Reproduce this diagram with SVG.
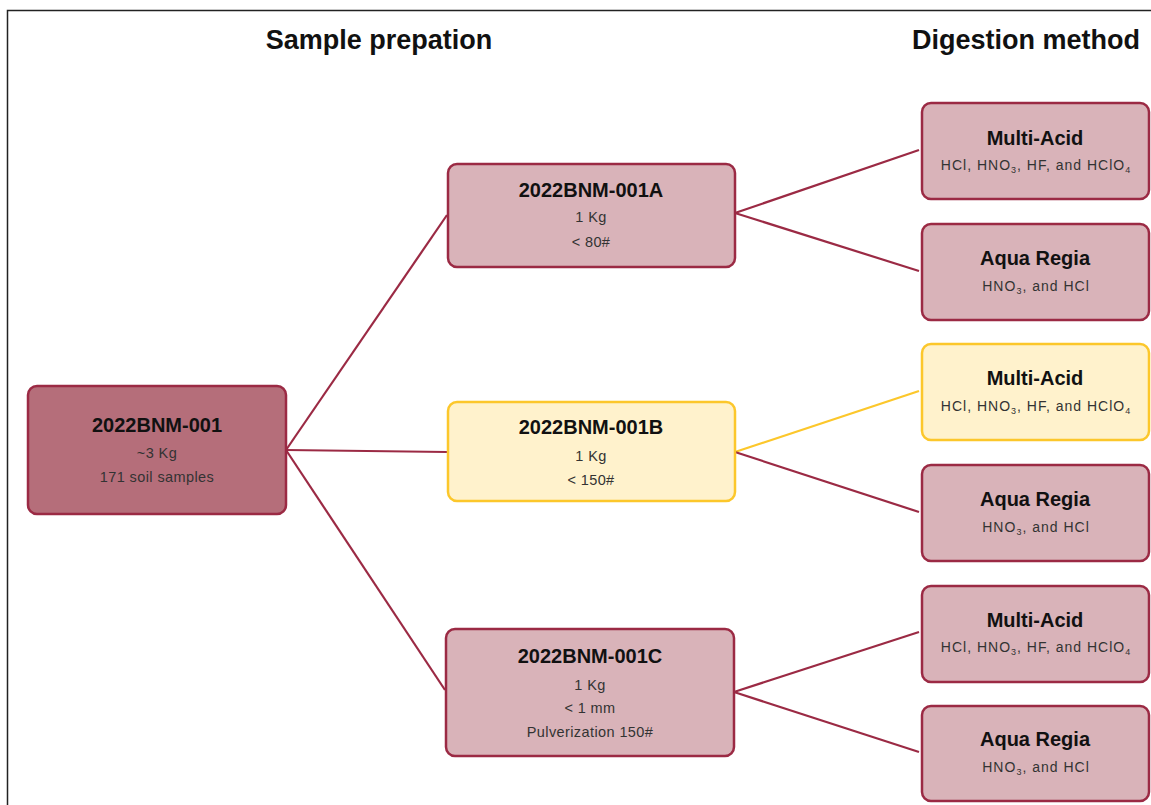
<svg xmlns="http://www.w3.org/2000/svg" width="1151" height="805" viewBox="0 0 1151 805">
<style>
.hdr{font-family:"Liberation Sans",Arial,sans-serif;font-weight:bold;font-size:27px;fill:#111;text-anchor:middle}
.t{font-family:"Liberation Sans",Arial,sans-serif;font-weight:bold;font-size:20px;fill:#111;text-anchor:middle}
.s{font-family:"Liberation Sans",Arial,sans-serif;font-size:14.5px;fill:#333;text-anchor:middle;letter-spacing:0.4px}
.r{font-family:"Liberation Sans",Arial,sans-serif;font-size:14px;fill:#333;text-anchor:middle;letter-spacing:1px}
.sub{font-size:9px}
.root{fill:#b56e7a;stroke:#9b2a44;stroke-width:2.5}
.pink{fill:#d9b3b9;stroke:#9b2a44;stroke-width:2.5}
.yel{fill:#fff2cc;stroke:#fcc72b;stroke-width:2.5}
.ln{stroke:#9b2a44;stroke-width:2.2;fill:none}
.lny{stroke:#fcc72b;stroke-width:2.2;fill:none}
</style>
<rect width="1151" height="805" fill="#fff"/>
<path d="M7.5 805 V10.5 H1151" fill="none" stroke="#222" stroke-width="1.5"/>
<text class="hdr" x="379" y="49">Sample prepation</text>
<text class="hdr" x="1026" y="49">Digestion method</text>
<g id="connectors">
<line class="ln" x1="286" y1="450" x2="447" y2="215"/>
<line class="ln" x1="286" y1="450" x2="447" y2="452"/>
<line class="ln" x1="286" y1="450" x2="445" y2="690"/>
<line class="ln" x1="735" y1="213" x2="919" y2="150"/>
<line class="ln" x1="735" y1="213" x2="919" y2="271"/>
<line class="lny" x1="735" y1="452" x2="919" y2="391"/>
<line class="ln" x1="735" y1="452" x2="919" y2="512"/>
<line class="ln" x1="734" y1="692" x2="919" y2="632"/>
<line class="ln" x1="734" y1="692" x2="919" y2="752"/>
</g>
<g id="root">
<rect class="root" x="28" y="386" width="258" height="128" rx="9"/>
<text class="t" x="157" y="432">2022BNM-001</text>
<text class="s" x="157" y="458">~3 Kg</text>
<text class="s" x="157" y="482">171 soil samples</text>
</g>
<g id="nodeA">
<rect class="pink" x="448" y="164" width="287" height="103" rx="9"/>
<text class="t" x="591" y="197">2022BNM-001A</text>
<text class="s" x="591" y="222">1 Kg</text>
<text class="s" x="591" y="247">&lt; 80#</text>
</g>
<g id="nodeB">
<rect class="yel" x="448" y="402" width="287" height="99" rx="9"/>
<text class="t" x="591" y="434">2022BNM-001B</text>
<text class="s" x="591" y="461">1 Kg</text>
<text class="s" x="591" y="485">&lt; 150#</text>
</g>
<g id="nodeC">
<rect class="pink" x="446" y="629" width="288" height="127" rx="9"/>
<text class="t" x="590" y="663">2022BNM-001C</text>
<text class="s" x="590" y="690">1 Kg</text>
<text class="s" x="590" y="713">&lt; 1 mm</text>
<text class="s" x="590" y="737">Pulverization 150#</text>
</g>
<g id="A-multi">
<rect class="pink" x="922" y="103" width="227" height="96" rx="9"/>
<text class="t" x="1035" y="145">Multi-Acid</text>
<text class="r" x="1036" y="170">HCl, HNO<tspan class="sub" dy="3">3</tspan><tspan dy="-3">, HF, and HClO</tspan><tspan class="sub" dy="3">4</tspan></text>
</g>
<g id="A-aqua">
<rect class="pink" x="922" y="224" width="227" height="96" rx="9"/>
<text class="t" x="1035" y="265">Aqua Regia</text>
<text class="r" x="1036" y="291">HNO<tspan class="sub" dy="3">3</tspan><tspan dy="-3">, and HCl</tspan></text>
</g>
<g id="B-multi">
<rect class="yel" x="922" y="344" width="227" height="96" rx="9"/>
<text class="t" x="1035" y="385">Multi-Acid</text>
<text class="r" x="1036" y="411">HCl, HNO<tspan class="sub" dy="3">3</tspan><tspan dy="-3">, HF, and HClO</tspan><tspan class="sub" dy="3">4</tspan></text>
</g>
<g id="B-aqua">
<rect class="pink" x="922" y="465" width="227" height="96" rx="9"/>
<text class="t" x="1035" y="506">Aqua Regia</text>
<text class="r" x="1036" y="532">HNO<tspan class="sub" dy="3">3</tspan><tspan dy="-3">, and HCl</tspan></text>
</g>
<g id="C-multi">
<rect class="pink" x="922" y="586" width="227" height="96" rx="9"/>
<text class="t" x="1035" y="627">Multi-Acid</text>
<text class="r" x="1036" y="652">HCl, HNO<tspan class="sub" dy="3">3</tspan><tspan dy="-3">, HF, and HClO</tspan><tspan class="sub" dy="3">4</tspan></text>
</g>
<g id="C-aqua">
<rect class="pink" x="922" y="706" width="227" height="95" rx="9"/>
<text class="t" x="1035" y="746">Aqua Regia</text>
<text class="r" x="1036" y="772">HNO<tspan class="sub" dy="3">3</tspan><tspan dy="-3">, and HCl</tspan></text>
</g>
</svg>
